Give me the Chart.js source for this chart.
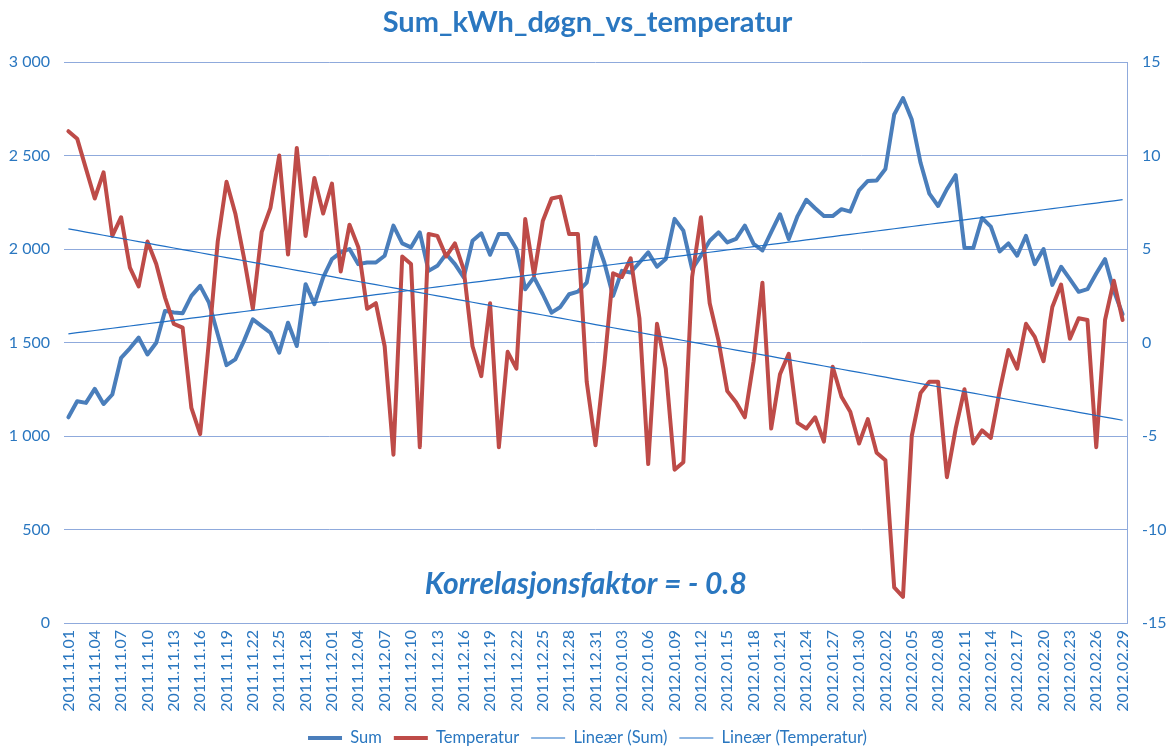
<!DOCTYPE html>
<html>
<head>
<meta charset="utf-8">
<script src="https://cdn.jsdelivr.net/npm/chart.js@4.4.0/dist/chart.umd.min.js"></script>
<style>
html,body{margin:0;padding:0;background:#ffffff;}
#wrap{width:1175px;height:747px;}
</style>
</head>
<body>
<div id="wrap"><canvas id="c" width="1175" height="747"></canvas></div>
<script>
// ---- categories (one per day) ----
const monthSpans = [["2011.11", 30], ["2011.12", 31], ["2012.01", 31], ["2012.02", 29]];
const categories = [];
monthSpans.forEach(([m, n]) => { for (let d = 1; d <= n; d++) categories.push(m + "." + String(d).padStart(2, "0")); });

// ---- series: Sum (kWh per day), left axis ----
const sumValues = [
  1100,1186,1177,1252,1171,1222,1418,1469,1526,1436,
  1499,1669,1660,1656,1749,1803,1713,1544,1379,1410,
  1510,1624,1588,1552,1445,1606,1481,1812,1705,1848,
  1946,1982,2000,1919,1928,1928,1964,2125,2030,2009,
  2089,1883,1910,1973,1919,1848,2044,2084,1969,2080,
  2080,2000,1785,1848,1758,1660,1690,1758,1772,1820,
  2062,1928,1749,1883,1874,1928,1982,1905,1946,2161,
  2098,1892,1964,2044,2089,2035,2054,2125,2027,1992,
  2090,2186,2053,2176,2263,2218,2176,2176,2213,2200,
  2314,2364,2366,2428,2719,2807,2692,2461,2296,2230,
  2320,2395,2005,2005,2166,2120,1987,2030,1964,2071,
  1919,2000,1808,1905,1839,1771,1785,1869,1946,1776,
  1651
];

// ---- series: Temperatur (deg C), right axis ----
const temperatureValues = [
  11.3,10.9,9.3,7.7,9.1,5.7,6.7,4.0,3.0,5.4,
  4.2,2.4,1.0,0.8,-3.5,-4.9,0.1,5.4,8.6,6.9,
  4.5,1.8,5.9,7.2,10.0,4.7,10.4,5.7,8.8,6.9,
  8.5,3.8,6.3,5.1,1.8,2.1,-0.2,-6.0,4.6,4.2,
  -5.6,5.8,5.7,4.6,5.3,3.9,-0.2,-1.8,2.1,-5.6,
  -0.5,-1.4,6.6,3.6,6.5,7.7,7.8,5.8,5.8,-2.1,
  -5.5,-1.2,3.7,3.5,4.5,1.3,-6.5,1.0,-1.4,-6.8,
  -6.4,3.5,6.7,2.1,0.1,-2.6,-3.2,-4.0,-1.0,3.2,
  -4.6,-1.7,-0.6,-4.3,-4.6,-4.0,-5.3,-1.3,-2.9,-3.7,
  -5.4,-4.1,-5.9,-6.3,-13.1,-13.6,-5.0,-2.7,-2.1,-2.1,
  -7.2,-4.6,-2.5,-5.4,-4.7,-5.1,-2.6,-0.4,-1.4,1.0,
  0.3,-1.0,1.9,3.1,0.2,1.3,1.2,-5.6,1.2,3.3,
  1.2
];

// ---- axis ticks ----
const leftTicks = [0, 500, 1000, 1500, 2000, 2500, 3000];
const rightTicks = [-15, -10, -5, 0, 5, 10, 15];
const seriesNames = ["Sum", "Temperatur", "Line\u00e6r (Sum)", "Line\u00e6r (Temperatur)"];
const titleText = "Sum_kWh_d\u00f8gn_vs_temperatur";
const annotationText = "Korrelasjonsfaktor = - 0.8";

// least-squares linear trendline (Excel "Lineær")
function linearTrend(vals) {
  const n = vals.length;
  let sx = 0, sy = 0, sxx = 0, sxy = 0;
  vals.forEach((v, i) => { sx += i; sy += v; sxx += i * i; sxy += i * v; });
  const b = (n * sxy - sx * sy) / (n * sxx - sx * sx);
  const a = (sy - b * sx) / n;
  return vals.map((_, i) => a + b * i);
}

const TXT = '#2A77C0';
const GRID = '#8FAADC';
const FONT = 'Lato';

const annotationPlugin = {
  id: 'korrelasjon',
  afterDatasetsDraw(chart) {
    const { ctx, scales } = chart;
    const x = scales.x.getPixelForValue(58.9);
    const y = scales.y.getPixelForValue(206);
    ctx.save();
    ctx.font = 'italic bold 30px ' + FONT;
    ctx.fillStyle = TXT;
    ctx.textAlign = 'center';
    ctx.textBaseline = 'middle';
    ctx.fillText(annotationText, x, y);
    ctx.restore();
  }
};

new Chart(document.getElementById('c'), {
  type: 'line',
  data: {
    labels: categories,
    datasets: [
      { label: seriesNames[0], data: sumValues, yAxisID: 'y', borderColor: '#4A7EBB', backgroundColor: '#4A7EBB',
        borderWidth: 4, pointRadius: 0, tension: 0, order: 3, borderJoinStyle: 'round', borderCapStyle: 'round' },
      { label: seriesNames[1], data: temperatureValues, yAxisID: 'y1', borderColor: '#BE4B48', backgroundColor: '#BE4B48',
        borderWidth: 4, pointRadius: 0, tension: 0, order: 2, borderJoinStyle: 'round', borderCapStyle: 'round' },
      { label: seriesNames[2], data: linearTrend(sumValues), yAxisID: 'y', borderColor: '#1F6FC5', backgroundColor: '#1F6FC5',
        borderWidth: 1.2, pointRadius: 0, tension: 0, order: 1 },
      { label: seriesNames[3], data: linearTrend(temperatureValues), yAxisID: 'y1', borderColor: '#1F6FC5', backgroundColor: '#1F6FC5',
        borderWidth: 1.2, pointRadius: 0, tension: 0, order: 0 }
    ]
  },
  options: {
    responsive: false,
    animation: false,
    devicePixelRatio: 1,
    layout: { padding: { left: 0, right: 0, top: 0, bottom: -9.25 } },
    plugins: {
      title: {
        display: true, text: titleText, color: TXT,
        font: { family: FONT, size: 29, weight: 'bold' },
        padding: { top: 5, bottom: 22.2 }
      },
      legend: {
        position: 'bottom',
        labels: {
          color: TXT, font: { family: FONT, size: 16.5 },
          usePointStyle: true, pointStyle: 'line', pointStyleWidth: 34, padding: 12,
          sort: (a, b) => a.datasetIndex - b.datasetIndex
        }
      },
      tooltip: { enabled: false }
    },
    scales: {
      x: {
        offset: true,
        grid: { display: false, drawTicks: false },
        border: { display: true, color: GRID },
        ticks: {
          autoSkip: false, minRotation: 90, maxRotation: 90, padding: 7,
          color: TXT, font: { family: FONT, size: 16 },
          callback: (v, i) => (i % 3 === 0 ? categories[i] : '')
        },
        afterFit: (s) => { s.height = 94.75; }
      },
      y: {
        position: 'left', min: leftTicks[0], max: leftTicks[leftTicks.length - 1],
        afterBuildTicks: (s) => { s.ticks = leftTicks.map(v => ({ value: v })); },
        grid: { color: GRID, lineWidth: 1, drawTicks: false },
        border: { display: false },
        ticks: {
          padding: 14, color: TXT, font: { family: FONT, size: 16 },
          callback: (v) => String(v).replace(/\B(?=(\d{3})+(?!\d))/g, ' ')
        },
        afterFit: (s) => { s.width = 64; }
      },
      y1: {
        position: 'right', min: rightTicks[0], max: rightTicks[rightTicks.length - 1],
        afterBuildTicks: (s) => { s.ticks = rightTicks.map(v => ({ value: v })); },
        grid: { drawOnChartArea: false, drawTicks: false },
        border: { display: true, color: GRID },
        ticks: { padding: 15, color: TXT, font: { family: FONT, size: 16 } },
        afterFit: (s) => { s.width = 48; }
      }
    }
  },
  plugins: [annotationPlugin]
});
</script>
</body>
</html>
